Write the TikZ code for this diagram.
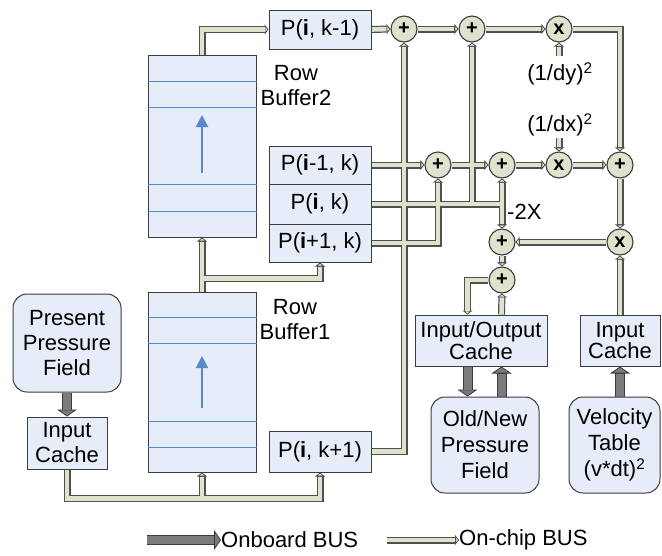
\documentclass[tikz,border=0pt]{standalone}
\usepackage{fontspec}
\setmainfont{Liberation Sans}
\usetikzlibrary{arrows.meta,calc}
\definecolor{boxfill}{HTML}{E6ECF8}
\definecolor{boxline}{HTML}{3C3C3C}
\definecolor{pale}{HTML}{DFE2CC}
\definecolor{busline}{HTML}{505050}
\definecolor{obgray}{HTML}{7B7B7B}
\definecolor{rowblue}{HTML}{5A88CC}
\pgfdeclarelayer{busA}
\pgfdeclarelayer{busB}
\pgfsetlayers{busA,busB,main}
\tikzset{
  txt/.style={font=\fontsize{22}{25}\selectfont, inner sep=0pt},
  box/.style={draw=boxline, fill=boxfill, line width=1pt, inner sep=0pt, align=center, font=\fontsize{22}{25}\selectfont},
  rbox/.style={box, rounded corners=14pt},
  opc/.style={circle, draw=boxline, fill=pale, line width=1.1pt, minimum size=26pt, inner sep=0pt, font=\fontsize{20}{20}\selectfont\bfseries},
  busout/.style={draw=busline, line width=7pt},
  busin/.style={draw=pale, line width=4.6pt},
  obout/.style={draw=boxline, line width=10pt},
  obin/.style={draw=obgray, line width=8pt},
  rowline/.style={draw=rowblue, line width=1pt}
}
\newcommand\busArr[1]{%
  \begin{pgfonlayer}{busA}\draw[busout,-{Triangle[length=4pt,width=10pt,line width=0.8pt,fill=pale]}] #1;\end{pgfonlayer}%
  \begin{pgfonlayer}{busB}\draw[busin,shorten >=4pt] #1;\end{pgfonlayer}}
\newcommand\obArr[1]{%
  \begin{pgfonlayer}{busA}\draw[obout,-{Triangle[length=7pt,width=20pt,line width=0.8pt,fill=obgray]}] #1;\end{pgfonlayer}%
  \begin{pgfonlayer}{busB}\draw[obin,shorten >=7pt] #1;\end{pgfonlayer}}
\begin{document}
\begin{tikzpicture}[x=1pt,y=-1pt]
\useasboundingbox (0,0) rectangle (662,555);
% row buffers
\node[box, minimum width=108pt, minimum height=182pt] (rb2) at (202,146) {};
\node[box, minimum width=108pt, minimum height=180pt] (rb1) at (202,382) {};
\foreach \yy in {81,107,184,211} \draw[rowline] (rb2.west |- 0,\yy) -- (rb2.east |- 0,\yy);
\foreach \yy in {317,343,421,447} \draw[rowline] (rb1.west |- 0,\yy) -- (rb1.east |- 0,\yy);
\coordinate (a2s) at (202,173); \coordinate (a2e) at (202,115);
\draw[rowblue, line width=2pt, -{Triangle[length=12pt,width=12pt]}] (a2s) -- (a2e);
\coordinate (a1s) at (202,408); \coordinate (a1e) at (202,356);
\draw[rowblue, line width=2pt, -{Triangle[length=12pt,width=12pt]}] (a1s) -- (a1e);
\node[txt, align=center] (rb2t) at (296,86) {Row\\Buffer2};
\node[txt, align=center] (rb1t) at (295,320) {Row\\Buffer1};
% P boxes
\node[box, minimum width=102pt, minimum height=39pt] (pkm1) at (320,29.5) {P(\textbf{i}, k-1)};
\node[box, minimum width=102pt, minimum height=38pt] (pim1) at (320,165) {P(\textbf{i}-1, k)};
\node[box, minimum width=102pt, minimum height=40pt] (pik) at (320,204) {P(\textbf{i}, k)};
\node[box, minimum width=102pt, minimum height=38pt] (pip1) at (320,243) {P(\textbf{i}+1, k)};
\node[box, minimum width=102pt, minimum height=41pt] (pkp1) at (320,451.5) {P(\textbf{i}, k+1)};
% left side
\node[rbox, minimum width=108pt, minimum height=98pt] (ppf) at (67,343) {Present\\Pressure\\Field};
\node[box, minimum width=80pt, minimum height=52pt] (icL) at (67,443) {Input\\Cache};
% right side
\node[box, minimum width=132pt, minimum height=51pt, font=\fontsize{22}{18.5}\selectfont] (ioc) at (481,340.5) {Input/Output\\Cache};
\node[box, minimum width=80pt, minimum height=51pt, font=\fontsize{22}{18.5}\selectfont] (icR) at (620,340.5) {Input\\Cache};
\node[rbox, minimum width=108pt, minimum height=96pt, font=\fontsize{22}{26}\selectfont] (onp) at (485,445) {Old/New\\Pressure\\Field};
\node[rbox, minimum width=91pt, minimum height=96pt, font=\fontsize{22}{26}\selectfont] (vel) at (614.5,445) {Velocity\\Table\\(v*dt)\textsuperscript{2}};
% operators
\node[opc] (c1) at (404,29) {+};
\node[opc] (c2) at (472,29) {+};
\node[opc] (c3) at (559,29) {x};
\node[opc] (c4) at (438,165) {+};
\node[opc] (c5) at (502,165) {+};
\node[opc] (c6) at (559,165) {x};
\node[opc] (c7) at (620,165) {+};
\node[opc] (c8) at (502,242) {+};
\node[opc] (c9) at (620,242) {x};
\node[opc] (c10) at (502,280) {+};
% labels
\node[txt] (dy) at (560,74) {(1/dy)\textsuperscript{2}};
\node[txt] (dx) at (560,125) {(1/dx)\textsuperscript{2}};
\node[txt, anchor=west] (m2x) at (507,212) {-2X};
\coordinate (dyt) at (559,56);
\coordinate (dxb) at (559,138);
% coordinates
\coordinate (j1) at (c2 |- pik.east);
\coordinate (j2) at (c5 |- pik.east);
\path (rb1.north) ++(0,-13) coordinate (j3);
\path (icL.south) ++(0,29) coordinate (j4);
\path (ioc.north west) ++(53,0) coordinate (iocA);
\path (ioc.north west) ++(87,0) coordinate (iocB);
% on-chip buses
\busArr{(rb2.north) -- (rb2.north |- pkm1.west) -- (pkm1.west)}
\busArr{(pkm1.east) -- (c1.west)}
\busArr{(c1.east) -- (c2.west)}
\busArr{(c2.east) -- (c3.west)}
\busArr{(c3.east) -- (c3.east -| c7.north) -- (c7.north)}
\busArr{(dyt) -- (c3.south)}
\busArr{(dxb) -- (c6.north)}
\busArr{(pim1.east) -- (c4.west)}
\busArr{(c4.east) -- (c5.west)}
\busArr{(c5.east) -- (c6.west)}
\busArr{(c6.east) -- (c7.west)}
\busArr{(pik.east) -- (j1) -- (c2.south)}
\busArr{(j1) -- (j2) -- (c5.south)}
\busArr{(j2) -- (c8.north)}
\busArr{(pip1.east) -- (pip1.east -| c4.south) -- (c4.south)}
\busArr{(pkp1.east) -- (pkp1.east -| c1.south) -- (c1.south)}
\busArr{(c7.south) -- (c9.north)}
\busArr{(c9.west) -- (c8.east)}
\busArr{(c8.south) -- (c10.north)}
\busArr{(c10.west) -- (c10.west -| iocA) -- (iocA)}
\busArr{(iocB) -- (c10.south)}
\busArr{(icR.north) -- (c9.south)}
\busArr{(rb1.north) -- (rb2.south)}
\busArr{(j3) -- (j3 -| pip1.south) -- (pip1.south)}
\busArr{(icL.south) -- (j4) -- (j4 -| pkp1.south) -- (pkp1.south)}
\busArr{(j4 -| rb1.south) -- (rb1.south)}
% onboard buses
\obArr{(ppf.south) -- (icL.north)}
\obArr{(iocA |- ioc.south) -- (iocA |- onp.north)}
\obArr{(iocB |- onp.north) -- (iocB |- ioc.south)}
\obArr{(icR.south |- vel.north) -- (icR.south)}
% legend
\coordinate (lg1) at (147,540);
\node[txt, anchor=west] (lt1) at (221,540) {Onboard BUS};
\coordinate (lg3) at (387,540);
\node[txt, anchor=west] (lt2) at (459,540) {On-chip BUS};
\obArr{(lg1) -- (lt1.west)}
\busArr{(lg3) -- (lt2.west)}
\end{tikzpicture}
\end{document}
